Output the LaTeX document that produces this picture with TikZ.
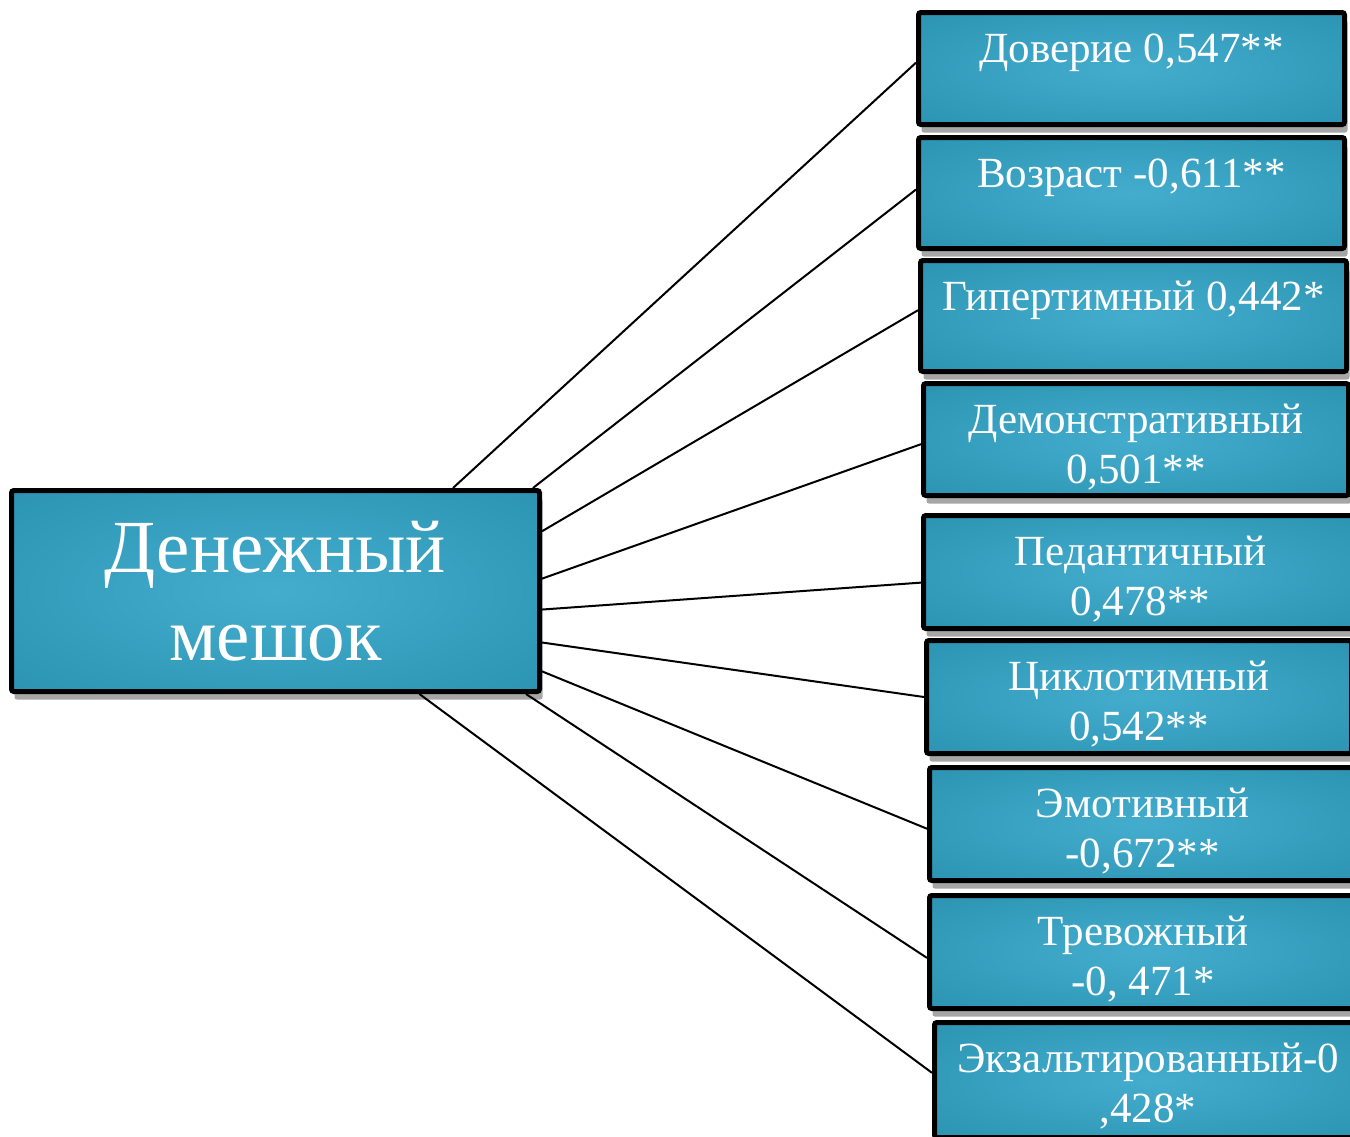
\documentclass[tikz,border=0pt]{standalone}
\usepackage{fontspec}
\setmainfont{Liberation Serif}
\usetikzlibrary{calc,shadows}
\definecolor{cin}{RGB}{68,172,205}
\definecolor{cout}{RGB}{28,132,160}
\pgfdeclareradialshading{tealshade}{\pgfpoint{0bp}{0bp}}{color(0bp)=(cin); color(60bp)=(cout); color(100bp)=(cout)}
\begin{document}
\begin{tikzpicture}[x=0.5pt,y=-0.5pt,
  rbox/.style={draw=black, line width=2.5pt, rounded corners=1.2pt, shading=tealshade,
    drop shadow={shadow xshift=1.5pt, shadow yshift=-4pt, opacity=0.35, fill=black}, inner sep=0pt},
  txt/.style={text=white, font=\fontsize{21.5}{25}\selectfont, align=center, inner sep=0pt, anchor=base},
  bigtxt/.style={text=white, font=\fontsize{37.5}{44}\selectfont, align=center, inner sep=0pt, anchor=base},
  conn/.style={draw=black, line width=1pt}]
\useasboundingbox (0,0) rectangle (1350,1136);
\clip (0,0) rectangle (1350,1136);

% main box
\node[rbox, minimum width=264pt, minimum height=100.5pt] (m) at (275.5,591) {};
% right boxes
\node[rbox, minimum width=213pt, minimum height=56pt] (b1) at (1131.5,68.5) {};
\node[rbox, minimum width=213pt, minimum height=55.5pt] (b2) at (1131.5,193) {};
\node[rbox, minimum width=213pt, minimum height=55.5pt] (b3) at (1133.5,316) {};
\node[rbox, minimum width=212.5pt, minimum height=56pt] (b4) at (1136,439.5) {};
\node[rbox, minimum width=217pt, minimum height=56.5pt] (b5) at (1140.5,572) {};
\node[rbox, minimum width=212.5pt, minimum height=56.5pt] (b6) at (1139,697) {};
\node[rbox, minimum width=213pt, minimum height=56.5pt] (b7) at (1142.5,824) {};
\node[rbox, minimum width=213.5pt, minimum height=56.5pt] (b8) at (1143,952) {};
\node[rbox, minimum width=213.5pt, minimum height=57.5pt] (b9) at (1148,1080) {};

% texts (anchor=base is the baseline of the last line)
\node[bigtxt] (tm) at (275.5,660) {Денежный\\мешок};
\node[txt] (t1) at (1131.5,62) {Доверие 0,547**};
\node[txt] (t2) at (1131.5,187) {Возраст -0,611**};
\node[txt] (t3) at (1133.5,310) {Гипертимный 0,442*};
\node[txt] (t4) at (1136,483) {Демонстративный\\0,501**};
\node[txt] (t5) at (1140.5,615) {Педантичный\\0,478**};
\node[txt] (t6) at (1139,740) {Циклотимный\\0,542**};
\node[txt] (t7) at (1142.5,867) {Эмотивный\\-0,672**};
\node[txt] (t8) at (1143,995) {Тревожный\\-0, 471*};
\node[txt] (t9) at (1148,1122) {Экзальтированный-0\\,428*};

% connectors
\draw[conn] ($(m.north west)!0.833!(m.north east)$) -- ($(b1.north west)!0.45!(b1.south west)$);
\draw[conn] ($(m.north west)!0.983!(m.north east)$) -- ($(b2.north west)!0.47!(b2.south west)$);
\draw[conn] ($(m.north east)!0.21!(m.south east)$) -- ($(b3.north west)!0.45!(b3.south west)$);
\draw[conn] ($(m.north east)!0.44!(m.south east)$) -- ($(b4.north west)!0.54!(b4.south west)$);
\draw[conn] ($(m.north east)!0.59!(m.south east)$) -- ($(b5.north west)!0.59!(b5.south west)$);
\draw[conn] ($(m.north east)!0.75!(m.south east)$) -- ($(b6.north west)!0.50!(b6.south west)$);
\draw[conn] ($(m.north east)!0.89!(m.south east)$) -- ($(b7.north west)!0.54!(b7.south west)$);
\draw[conn] ($(m.south west)!0.97!(m.south east)$) -- ($(b8.north west)!0.55!(b8.south west)$);
\draw[conn] ($(m.south west)!0.77!(m.south east)$) -- ($(b9.north west)!0.44!(b9.south west)$);
\end{tikzpicture}
\end{document}
